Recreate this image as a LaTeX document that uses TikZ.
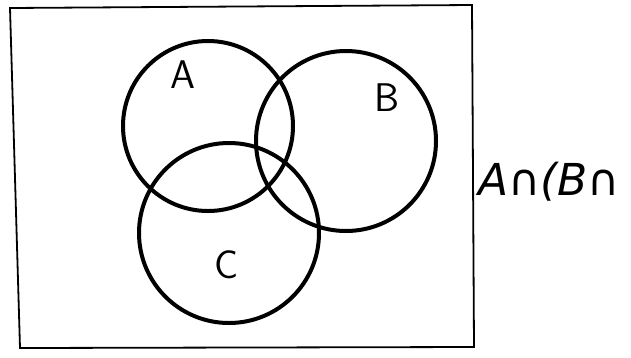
\documentclass[tikz,border=0pt]{standalone}
\usepackage{fontspec}
\setmainfont{DejaVu Sans}
\begin{document}
\begin{tikzpicture}[x=1pt,y=-1pt,
  venn/.style={draw=black,line width=4pt},
  frame/.style={draw=black,line width=1.8pt},
  lab/.style={font=\fontsize{40}{40}\selectfont\sffamily,inner sep=0pt},
  expr/.style={font=\fontsize{44}{44}\selectfont\itshape,inner sep=0pt,anchor=west}]
\useasboundingbox (0,0) rectangle (631,357);
\path[frame] (10,8) -- (472,5) -- (474,347) -- (20,348) -- cycle;
\node[venn,circle,minimum size=170pt,inner sep=0pt] (A) at (208,126) {};
\node[venn,circle,minimum size=180pt,inner sep=0pt] (B) at (346,141) {};
\node[venn,circle,minimum size=180pt,inner sep=0pt] (C) at (229,233) {};
\node[lab] (la) at (183,75) {A};
\node[lab] (lb) at (387,98) {B};
\node[lab] (lc) at (227,265) {C};
\node[expr] (ex) at (478,182) {A∩(B∩};
\end{tikzpicture}
\end{document}
